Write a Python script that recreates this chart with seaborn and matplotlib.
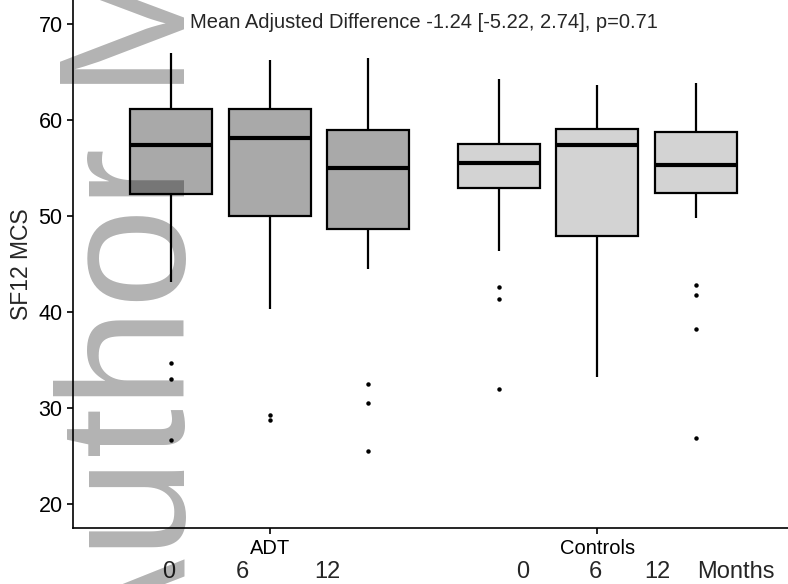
import matplotlib
matplotlib.use("Agg")
import matplotlib.pyplot as plt
import pandas as pd
import seaborn as sns

# values
groups = ["ADT", "Controls"]
months = ["0", "6", "12"]
fill_colors = ["#a9a9a9", "#d3d3d3"]

# box statistics, order: ADT 0/6/12, Controls 0/6/12
whisker_low = [43.16, 40.28, 44.45, 46.42, 33.26, 49.83]
q1 = [52.33, 49.97, 48.61, 52.95, 47.95, 52.43]
median = [57.43, 58.16, 55.03, 55.49, 57.40, 55.28]
q3 = [61.15, 61.15, 58.92, 57.50, 59.03, 58.71]
whisker_high = [66.95, 66.25, 66.42, 64.30, 63.68, 63.89]
outliers = [
    [34.72, 33.02, 26.70],
    [29.27, 28.78],
    [32.50, 30.59, 25.59],
    [42.64, 41.40, 32.01],
    [],
    [42.88, 41.84, 38.23, 26.90],
]

title = "Mean Adjusted Difference -1.24 [-5.22, 2.74], p=0.71"
ylabel = "SF12 MCS"
month_row = ["0", "6", "12", "0", "6", "12", "Months"]
watermark = "Author Manuscript"


def build_sample(lo, a, m, b, hi, out):
    # n = 4k+1 values so the quartiles land exactly on a, m, b
    low_out = sorted(o for o in out if o < a)
    high_out = sorted(o for o in out if o > b)
    k = max(len(low_out), len(high_out)) + 1
    head = low_out + [lo] + [a] * (k - len(low_out) - 1)
    tail = [b] * (k - len(high_out) - 1) + [hi] + high_out
    return head + [a] * k + [m] * k + [b] + tail


rows = []
for gi, g in enumerate(groups):
    for mi, mo in enumerate(months):
        i = gi * 3 + mi
        vals = build_sample(whisker_low[i], q1[i], median[i], q3[i],
                            whisker_high[i], outliers[i])
        rows += [(g, mo, v) for v in vals]
df = pd.DataFrame(rows, columns=["Group", "Months", "MCS"])

sns.set_style("ticks")
plt.rcParams["font.family"] = ["Liberation Sans", "DejaVu Sans"]

fig = plt.figure(figsize=(7.88, 5.84), dpi=100)
ax = fig.add_axes([73 / 788, 1 - 528.3 / 584, 721 / 788, 528.3 / 584])

for g, col in zip(groups, fill_colors):
    sns.boxplot(
        data=df[df.Group == g], x="Group", y="MCS", hue="Months",
        order=groups, hue_order=months, palette={m: col for m in months},
        saturation=1, width=0.9, gap=0.167, dodge=True,
        linecolor="black", linewidth=1.6, whis=1.5, showcaps=False,
        fliersize=2.2,
        flierprops=dict(marker="o", markerfacecolor="black", markeredgecolor="black"),
        medianprops=dict(linewidth=3.0),
        legend=False, ax=ax,
    )

ax.set_xlim(-0.6, 1.6)
ax.set_ylim(17.5, 72.5)
ax.set_yticks([20, 30, 40, 50, 60, 70])
ax.set_xlabel("")
ax.set_ylabel(ylabel, fontsize=16.5, labelpad=4)
sns.despine(ax=ax)
for s in ["left", "bottom"]:
    ax.spines[s].set_linewidth(1.2)
    ax.spines[s].set_color("black")
ax.tick_params(axis="y", length=4.5, width=1.2, colors="black", labelsize=15.5, pad=3)
ax.tick_params(axis="x", length=4.5, width=1.2, colors="black", labelsize=14.5, pad=3)

ax.text(0.47, 70.2, title, ha="center", va="center", fontsize=14.5)

# hand placed month labels under the axis
month_x = [169, 242, 327, 523, 595, 657, 736]
for lab, x in zip(month_row, month_x):
    fig.text(x / 788, 1 - 572 / 584, lab, ha="center", va="center", fontsize=17)

fig.text(185 / 788, 1 - 678 / 584, watermark, rotation=90, rotation_mode="anchor",
         ha="left", va="baseline", fontsize=129.6, color="black", alpha=0.3)

fig.savefig("out.png", dpi=100)
